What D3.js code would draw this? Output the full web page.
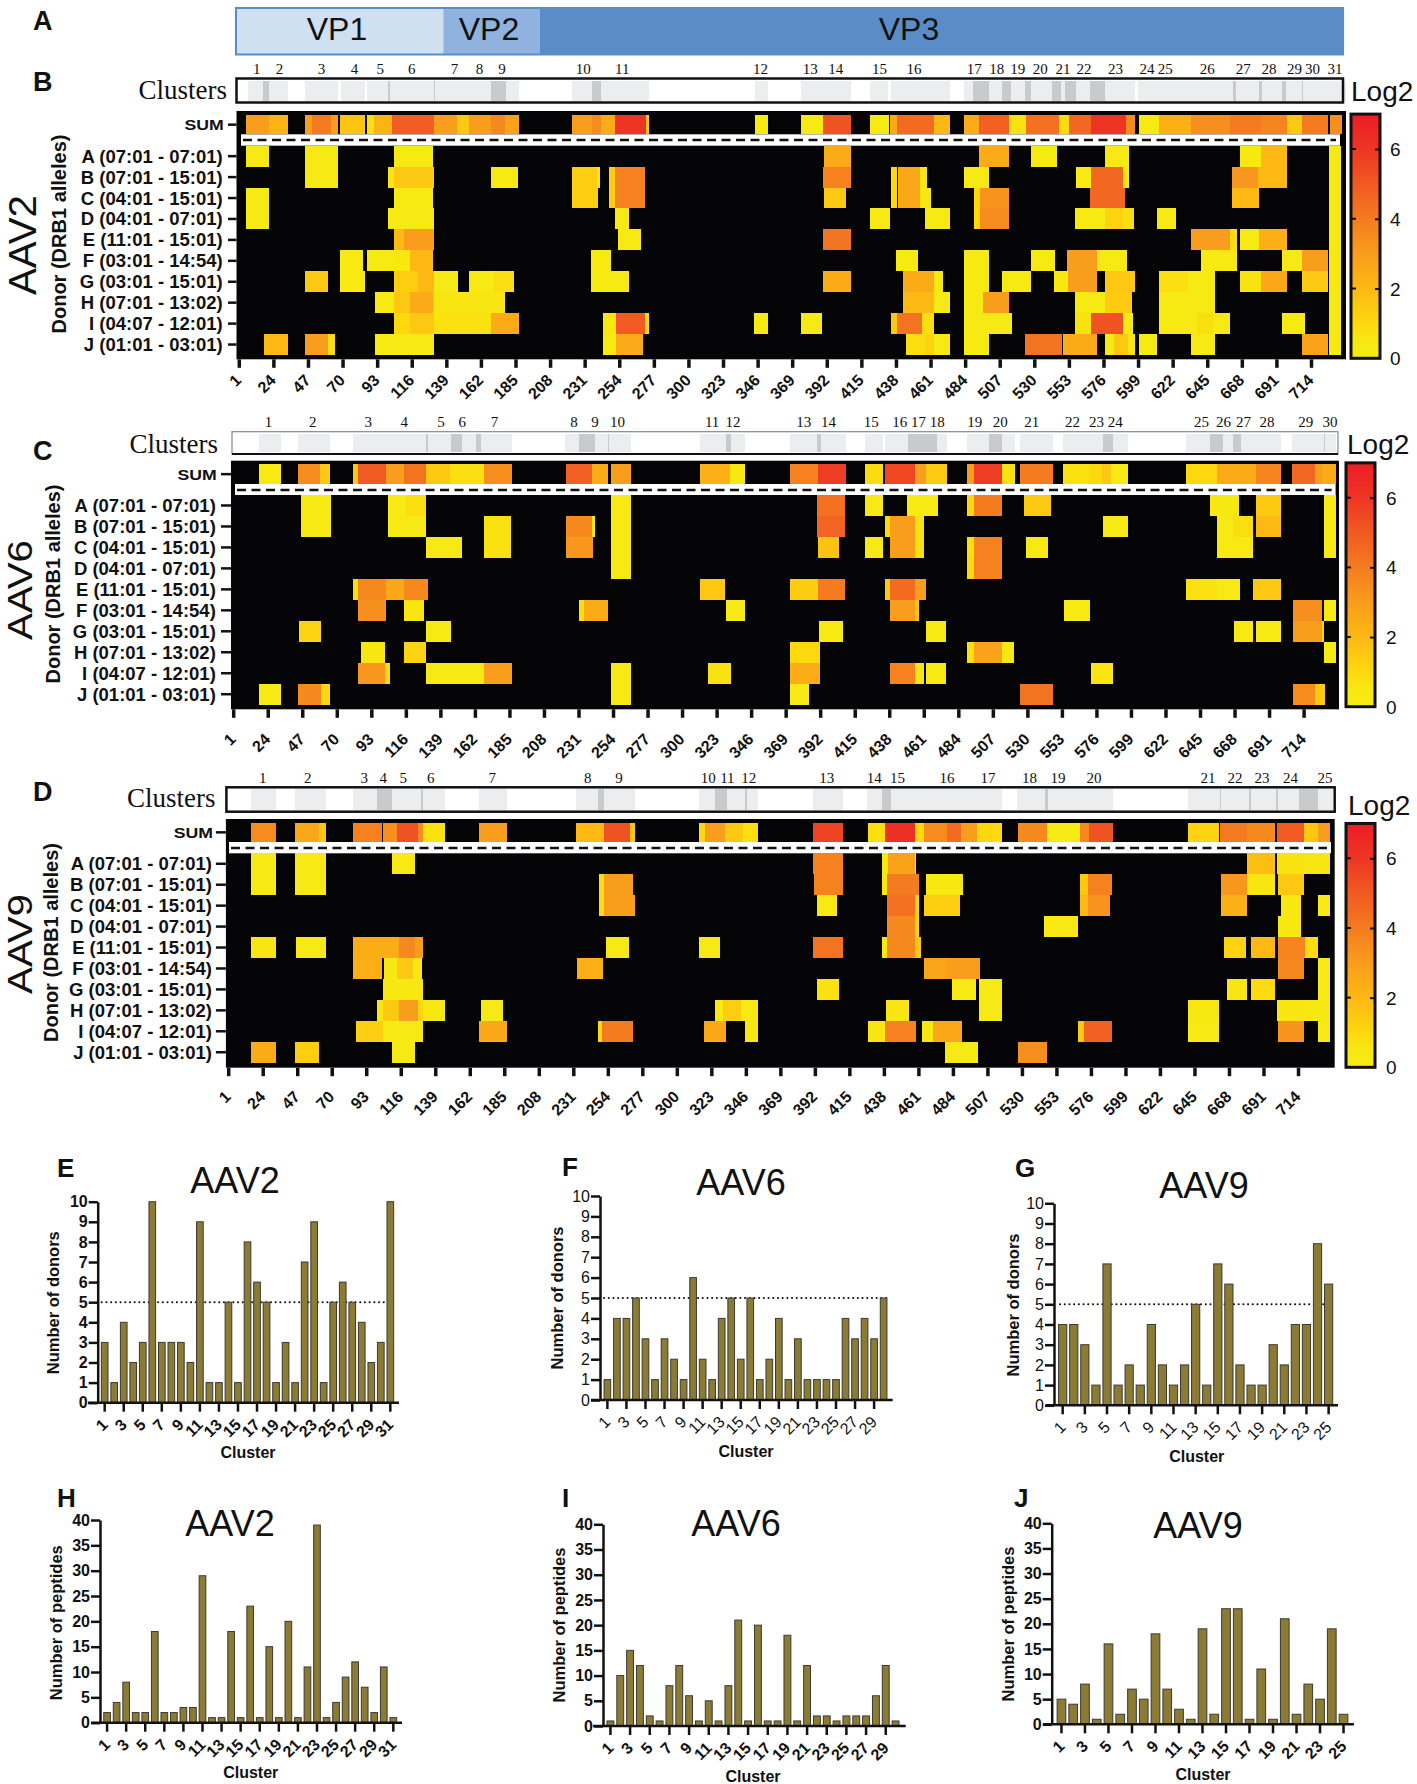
<!DOCTYPE html>
<html>
<head>
<meta charset="utf-8">
<script src="https://cdnjs.cloudflare.com/ajax/libs/d3/7.8.5/d3.min.js"></script>
<style>
  body { margin: 0; background: #fff; }
  svg { display: block; }
  text { font-family: "Liberation Sans", Arial, sans-serif; fill: #111; }
  .serif { font-family: "Liberation Serif", "Times New Roman", serif; }
</style>
</head>
<body>
<svg id="chart" width="1417" height="1784"></svg>
<script>
// ---- data ----
const donors = ["A (07:01 - 07:01)", "B (07:01 - 15:01)", "C (04:01 - 15:01)", "D (04:01 - 07:01)", "E (11:01 - 15:01)",
  "F (03:01 - 14:54)", "G (03:01 - 15:01)", "H (07:01 - 13:02)", "I (04:07 - 12:01)", "J (01:01 - 03:01)"];
const residueTicks = [1,24,47,70,93,116,139,162,185,208,231,254,277,300,323,346,369,392,415,438,461,484,507,530,553,576,599,622,645,668,691,714];
const capsidRegions = [["VP1", 1, 137], ["VP2", 137, 201], ["VP3", 201, 736]];
const colorTicks = [0, 2, 4, 6];
const colorDomain = [0, 0.5, 1, 2, 3, 4, 5, 6, 7];
const colorRange = ["#f6eb14", "#f8e812", "#fdd80f", "#fdb813", "#f99d1c", "#f47b20", "#f15a22", "#ee3524", "#ed1c24"];

// each segment is [first residue, last residue, log2 value]
const aav2Sum = [[6,21,3],[21,34,2.2],[45,50,3],[50,62,4],[62,67,3],[68,85,1.6],[86.5,91,.8],[91,103,2.2],[103,131,4.9],[131,146,3],[146,154,1.5],[154,169,3],[169,178,3.6],[178,187,2.8],
  [222.5,236,3],[236,242,3.5],[242,251.5,2.5],[251.5,271.5,6],[271.5,273.5,1.5],[344,352.6,.3],[375,389.4,.3],[389.4,408.3,5.2],[421,433.5,.3],[434,439,2.5],[439,463,4.5],[463,473.7,2],
  [483,493.5,2.5],[493.5,513.2,4.8],[513.2,524.5,.7],[524.5,546.7,4.3],[546.7,552.8,.9],[552.8,568,4.6],[568,590.8,6],[590.8,597,3.5],[599.3,613,.3],[613,634,2.3],[634,660.2,3.4],[660.2,680.6,4],[680.6,698,3.7],[698,708,1.5],[708,725.3,4],[726.8,734.7,3.4]];
const aav2Rows = [
  [[6,21,.3],[45,67,.3],[104,130,.2],[390,408,2.5],[493,513,2.5],[528,545,.2],[577,593,.2],[667,681,.5],[681,698,2],[726,734,.2]],
  [[45,67,.3],[100,104,.6],[104,131,1.5],[168.4,186.8,.2],[222.5,239.3,1.3],[239.3,241.5,.6],[247.5,251.5,1.3],[251.5,271.4,3.8],[389.4,408,3.8],[435,439,1],[439.3,454,2.6],[454,458.5,.6],[483,500,.3],[557.4,568,.4],[568,589,4.6],[589,593,.5],[661.7,679,3.2],[679,698,2],[726,734,.2]],
  [[6,21,.3],[104,130,.2],[222.5,240,1.3],[247.5,251.5,1.3],[251.5,271.4,3.8],[390,404.6,1.5],[435,439,1],[439.3,454,2.6],[454,461.5,.5],[490,494,1],[494,513,3.3],[567,590,4.6],[661.7,679.7,2],[726,734,.2]],
  [[6,21,.3],[100,131,.3],[251.5,260.7,.3],[421,434,.2],[457.5,473.7,.2],[490,494,1],[494,513,3.5],[557,577,.2],[577,589,1.2],[589,596,.8],[611.5,624,.2],[726,734,.2]],
  [[104,111,2],[111,131,3],[253,268.3,.3],[389.4,408.3,4.2],[634,660,3],[660,664.5,.8],[667,679.7,.2],[679.7,698,2.3],[726,734,.2]],
  [[68,83.5,.2],[86.5,104,.3],[104,115,.5],[115,130,2],[235.4,248.5,.4],[438,452.4,.2],[483,500,.2],[527.5,543.7,.2],[552,571.4,3],[571.4,591.7,.3],[641,664.5,.2],[695,708,.3],[708,725.3,3],[726,734,.2]],
  [[45.3,60.6,1.5],[68,85,.4],[104,120,1.3],[120,131,2],[131,146.7,.3],[154.4,170.5,.3],[170.5,184.3,.8],[235.4,252,.2],[252,260.7,.3],[389.4,408.3,2.5],[442.4,463,2.5],[463,469,.5],[483,500,.2],[508.7,527.5,.2],[542.8,552.2,.5],[552.2,571.4,3],[577,597,1.5],[613,632,.8],[632,650,.2],[667,681,.7],[681,698,2.6],[708,725,1.5],[726,734,.2]],
  [[91.7,104,.2],[104,115,1.5],[115,130,2.5],[130,131,1.3],[131,178,.6],[442.4,463,2],[463,473.7,.3],[483,496,.2],[496,513.2,3],[557,577,.2],[577,595,1.4],[613,650,.2],[726,734,.2]],
  [[104,115,1],[115,131,1.5],[131,169,.7],[169,187,2.5],[243,252,.5],[252,271.4,5],[271.4,273.5,.8],[343.8,352.6,.3],[374.8,388.5,.3],[435,438.7,1.5],[438.7,455.5,4.2],[455.5,463,.8],[483,515.4,.3],[557,568,.7],[568,589,5.2],[589,595.5,.3],[613,638,.2],[638,648.6,.8],[648.6,659.9,.2],[695,710,.2],[726,734,.2]],
  [[17.8,34,2],[45.3,60.6,3],[60.6,65.2,.8],[91.7,105,.2],[105,131,.3],[243,252,.2],[252,270,2.5],[444.8,457,.8],[457,463,1.2],[463,473.7,.4],[483,500,.2],[523.9,548.2,4.2],[549,571.7,2.5],[577,583,.4],[583,592.5,1.5],[592.5,597,.6],[599.3,611.5,.2],[634,650,.3],[708,725.3,2.8],[726,734,.2]]
];
const aav2ClusterLabels = [13,28,56,78,95,116,144.5,161,176,230,256,348,381,398,427,450,490,505,519,534,549,563,584,605,617,645,669,686,703,715,730];
const aav2ClusterSpans = [[7,34],[45,67],[69,85],[86.5,187],[222.5,273.5],[344,352.6],[375,408],[420.5,433],[435,473.7],[483,597],[599,737]];
const aav2ClusterOverlaps = [[17,21.3],[100.5,101.5],[130.5,131.5],[169,179],[236,242],[489.5,500],[508.7,514.8],[524,527.5],[542,548],[550.4,557.4],[567,577],[662,664],[679.6,681.5],[695,697.3],[708,709]];

const aav6Sum = [[18.4,32.8,.4],[44.4,59.1,3.5],[59.1,65.8,1.5],[81.1,84.2,1.5],[84.2,102.5,5],[102.5,114.8,3],[114.8,129.4,4.2],[129.4,145.3,1.5],[145.3,168.3,.8],[168.3,187,3.4],
  [222.4,240.1,4.8],[240.1,250.8,2.5],[252.4,266.1,3],[312,331.7,2.3],[331.7,341.7,.5],[372.2,390.5,3.8],[390.5,409.4,5.8],[421.6,433.7,.9],[435.3,455,5.5],[455,462.7,3],[462.7,476.4,1.4],
  [490.1,494.7,3],[494.7,513,5.8],[513,521.5,.7],[525.1,547,4],[554,570.8,.7],[570.8,580,1],[580,586,1.5],[586,597.3,.4],[635.4,656,1],[656,682,2.5],[682,698.7,3.7],[706.4,721.6,4.6],[721.6,726.2,3],[726.2,735.3,2.5]];
const aav6Rows = [
  [[46.3,66.4,.3],[104,116.3,.3],[116.3,129.1,.8],[252.4,266.1,.3],[389.6,408.8,4.3],[421.6,433.7,.3],[449.9,470.3,.2],[490,494.7,1],[494.7,513,4],[527.6,545.5,1.5],[651.5,671.3,.5],[682,698.7,1.5],[727.7,735.3,.3]],
  [[46.3,66.4,.3],[104,129.1,.3],[168.3,186,.7],[222.4,240.1,3.6],[240.1,242.3,.5],[252.4,266.1,.3],[389.6,408.8,4.7],[435.3,438.3,1],[438.3,455,3],[455,461.2,.7],[580.6,597.3,.3],[656,666.7,.3],[666.7,680.5,.8],[682,698.7,2],[727.7,735.3,.3]],
  [[129.1,153.6,.3],[168.3,186,.7],[222.4,240.8,3.2],[252.4,266.1,.3],[390.5,404.8,1.7],[421.6,433.7,.3],[438.3,455,3],[455,461.2,.7],[490,494.7,.8],[494.7,513,3.8],[528.8,544,.3],[656,680,.4],[727.7,735.3,.3]],
  [[252.4,266.1,.3],[490,494.7,1],[494.7,513,3.8]],
  [[81.1,84.2,.8],[84.2,102.5,3.6],[102.5,114.8,2.6],[114.8,131,3.6],[312,328.7,1.5],[372.2,390.5,1.4],[390.5,408.8,4],[435.3,438.3,1.5],[438.3,455,4.5],[455,462.7,3],[635.4,656,.7],[656,671.9,.3],[680.5,698.7,1.5]],
  [[84.2,103.1,3.4],[114.8,127.9,.6],[231.6,234.6,.8],[234.6,250.8,2.5],[329.3,341.7,.3],[438.3,455,3],[455,458,1.5],[554.7,571.7,.4],[707,726.2,3.4],[727.7,735.3,.3]],
  [[45,59.7,1.2],[129.1,146,.2],[391,407,.2],[462.7,475.8,.2],[667.7,680.5,.2],[682,698.7,.2],[707,726.2,3],[726.2,727.7,1]],
  [[86.3,101.9,.6],[114.8,129.1,1.2],[372.2,391.7,1],[490,494.7,.8],[494.7,513,2.8],[513,521.2,.5],[727.7,735.3,.3]],
  [[84.2,101.9,3.2],[101.9,105.3,.8],[129.1,168.3,.2],[168.3,187,3],[252.4,266.1,.3],[317.4,332.6,.7],[372.2,391.7,2.4],[438.3,455,3.8],[455,461.2,.5],[462.7,475.8,.2],[572.3,587,.6]],
  [[18.4,32.8,.3],[44.4,59.7,3.6],[59.7,65.2,1],[252.4,266.1,.3],[372.2,384.4,.3],[525.1,547,4.2],[707,721.6,3.5],[721.6,728.3,1.5]]
];
const aav6ClusterLabels = [24.5,54,91,115,139.5,153.6,175,228,242,257,320,334,381,397.5,426,445,457.5,470,495,512,533,560,576,588.5,646,660.6,674,689.6,715.5,731.6];
const aav6ClusterSpans = [[18.4,32.8],[44.4,65.8],[81,187],[222,266],[312,342],[372,409],[421.6,433.7],[435,476.4],[490,521.5],[525,547],[554,597],[635.4,699],[706,735.3]];
const aav6ClusterOverlaps = [[129.5,130.5],[146,153.6],[162.8,166],[231.6,242],[250.5,251.5],[329.3,332.6],[389.6,392.6],[450.5,469.7],[504.4,513],[580.6,587],[651.5,660.6],[666.8,672.2],[727.5,728.5]];

const aav9Sum = [[16.3,33.1,3.5],[45.4,61.6,2.6],[61.6,66.2,1.5],[84.5,103.5,3.8],[104.4,113.6,3.4],[113.6,127.4,5.2],[127.4,131,3.5],[131,145.7,.7],[168.1,187,3],[232.9,251.3,2],[251.3,268.7,5.2],[268.7,271.8,1.5],
  [314.6,318.6,1],[318.6,332.2,3],[332.2,344.4,1.5],[344.4,354.4,.8],[390.7,410.5,5.6],[427.3,438.8,.8],[438.8,458.7,6.2],[458.7,464.7,1],[464.7,480,3.5],[480,489.1,4.5],[489.1,499.8,3],[499.8,516.6,1],
  [527.2,546.4,3.6],[546.4,569,.3],[569,574.5,3.6],[574.5,590.6,5.2],[640.9,661.3,1.2],[662.2,680.2,4],[680.2,698.5,3.6],[700,717.7,5],[717.7,727.5,1.5],[727.5,735.4,3]];
const aav9Rows = [
  [[16.3,33.1,.3],[45.4,66.2,.3],[110.5,125.2,.3],[390.7,410.5,3.8],[436.7,441,.5],[441,458.7,2.8],[458.7,459.5,.5],[680.2,698.5,1.8],[700,717.7,.7],[717.7,735.4,.6]],
  [[16.3,33.1,.3],[45.4,66.2,.3],[248.2,251.3,.8],[251.3,270.6,3],[391.5,410.5,3.8],[436.7,439.8,.5],[439.8,461.1,4],[466.3,490.7,.5],[568.4,573.9,1.5],[573.9,590.3,3.8],[662.8,680.2,3.2],[680.2,698.5,.6],[701,718.3,1.5]],
  [[248.2,251.3,.8],[251.3,271.8,3],[393.7,406.8,.2],[439.8,458.7,4.3],[458.7,461.1,1],[464.7,488.5,1.3],[568.4,573.9,2],[573.9,589,3.3],[662.8,680.2,2.3],[702.5,716.2,.5],[727.5,735.4,.3]],
  [[439.8,458.7,3.6],[458.7,461.1,1],[544.6,567.5,.4],[701,716.2,.5]],
  [[16.3,33.1,.6],[46.3,66.2,.3],[84.5,104.4,2.4],[104.4,115,2.4],[115,125.8,3.6],[125.8,131,3],[252.8,268.1,.3],[314.6,329.1,.3],[390.7,410.5,4.2],[436.7,439.8,.5],[439.8,459,3.6],[459,462.9,1.5],[664.4,679.6,1.2],[682.7,698.5,2],[701,718.4,3.7],[718.4,727.5,.8]],
  [[84.5,103.5,2.3],[105,113.6,.5],[113.6,124.3,1.5],[124.3,130.4,.4],[233.6,250.7,2.3],[464.7,480,2.7],[480,502,3],[701,718.3,3.6],[727.5,735.4,.3]],
  [[104.4,131,.5],[393.7,408.4,.7],[483.6,499.5,.3],[501.3,516.6,.3],[666.5,680.2,.6],[682.7,698.5,.9],[727.5,735.4,.3]],
  [[100.4,104.4,.6],[104.4,115,1.5],[115,127.4,3],[127.4,131,1],[131,145.7,.5],[169.6,184.3,.3],[325.5,330.6,.4],[330.6,342.8,1.3],[342.8,354.4,.4],[439.4,455,.6],[501.3,516.6,.3],[640.9,661.3,.5],[700.3,717.7,.6],[717.7,735.4,.5]],
  [[86,103.9,1.3],[104.4,131,.3],[168.1,187,2.6],[247.3,250.4,1],[250.4,270.6,4],[317.8,332.8,2.6],[345.3,354.4,.4],[427.3,438.8,.6],[438.8,459.3,3.8],[463.2,470.8,.5],[470.8,490,2.6],[567.2,571.4,1.5],[571.4,590.3,4.8],[640.9,661.3,.3],[701,718.3,3.3],[727.5,735.4,.3]],
  [[16.3,33.1,2.5],[45.4,61.6,1.3],[110.5,125.2,.3],[478.5,500.4,.3],[527.2,547,3.4]]
];
const aav9ClusterLabels = [24,54,91.6,104.4,117.6,136,177,240.6,261.4,321,333.7,348,400,431.5,447,480,507.4,535,554,578,654,672,690,709,732];
const aav9ClusterSpans = [[16.3,33],[45.4,66.2],[84.5,145.7],[168,187],[233,271.8],[314.6,354.4],[390.7,410.5],[427,516.6],[527,590.6],[640.9,737]];
const aav9ClusterOverlaps = [[100.4,110],[129.8,131],[247.6,251.3],[325.5,333.7],[345.5,346.5],[436.7,442.5],[545.5,547.6],[662,663],[681.5,682.5],[699.5,700.5],[714.7,727.5]];

const donorsAav2 = [3,1,4,2,3,10,3,3,3,2,9,1,1,5,1,8,6,5,1,3,1,7,9,1,5,6,5,4,2,3,10];
const donorsAav6 = [1,4,4,5,3,1,3,2,1,6,2,1,4,5,2,5,1,2,4,1,3,1,1,1,1,4,3,4,3,5];
const donorsAav9 = [4,4,3,1,7,1,2,1,4,2,1,2,5,1,7,6,2,1,1,3,2,4,4,8,6];
const peptidesAav2 = [2,4,8,2,2,18,2,2,3,3,29,1,1,18,1,23,1,15,1,20,1,11,39,1,4,9,12,7,2,11,1];
const peptidesAav6 = [1,10,15,12,2,1,8,12,6,1,5,1,8,21,1,20,1,1,18,1,12,2,2,1,2,2,2,6,12,1];
const peptidesAav9 = [5,4,8,1,16,2,7,5,18,7,3,1,19,2,23,23,1,11,1,21,2,8,5,19,2];
const donorTicks = [0,1,2,3,4,5,6,7,8,9,10];
const peptideTicks = [0,5,10,15,20,25,30,35,40];
const donorThreshold = 5;

// ---- drawing ----
const svg = d3.select("#chart");
const heatColor = d3.scaleLinear().domain(colorDomain).range(colorRange);

function label(g, str, x, y, size, opts) {
  opts = opts || {};
  return g.append("text")
    .attr("transform", `translate(${x},${y}) ${opts.rotate ? `rotate(${opts.rotate})` : ""} scale(${opts.sx || 1},1)`)
    .attr("text-anchor", opts.anchor || "middle")
    .attr("font-size", size)
    .attr("font-weight", opts.weight || "normal")
    .attr("class", opts.cls || null)
    .text(str);
}

// panel letters
[["A",33,29.5,27],["B",33,90.5,27],["C",33,459.5,27],["D",33,800.5,27],["E",57,1177,26],["F",562,1176,26],["G",1015,1177,26],["H",57,1507,26],["I",562,1507,26],["J",1014,1507,26]]
  .forEach(p => label(svg, p[0], p[1], p[2], p[3], {anchor:"start", weight:"bold"}));

// panel A, capsid bar
const capsidX = d3.scaleLinear().domain([1, 714]).range([238.8, 1311]);
const capsidFill = {VP1:"#cfe0f3", VP2:"#8fb2de", VP3:"#5a8dc8"};
svg.append("g").selectAll("rect").data(capsidRegions).enter().append("rect")
  .attr("x", d => capsidX(d[1]) - (d[0] == "VP1" ? 2 : 0))
  .attr("width", d => capsidX(d[2]) - capsidX(d[1]) + (d[0] == "VP1" ? 2 : 0))
  .attr("y", 8).attr("height", 46.5)
  .attr("fill", d => capsidFill[d[0]]);
svg.append("rect").attr("x", 236).attr("y", 8).attr("width", 1107).attr("height", 46.5)
  .attr("fill", "none").attr("stroke", "#5a8dc8").attr("stroke-width", 2);
capsidRegions.forEach(d => {
  const cx = {VP1:337, VP2:489, VP3:909}[d[0]];
  label(svg, d[0], cx, 40, 32);
});

function drawHeatmap(c) {
  const g = svg.append("g");
  const x = d3.scaleLinear().domain([1, 714]).range(c.xr);
  const y = d3.scaleBand().domain(donors).range(c.rowsY);

  // serotype name and axis title
  label(g, c.name, c.nameX, c.nameY, c.nameSize, {rotate:-90, sx:c.nameSx});
  label(g, "Donor (DRB1 alleles)", c.donorX, c.donorY, 20, {rotate:-90, weight:"bold"});

  // clusters strip
  label(g, "Clusters", c.clustersX, c.clustersY, 27, {anchor:"end", cls:"serif"});
  const strip = g.append("g").attr("shape-rendering", "crispEdges");
  strip.selectAll(".light").data(c.spans).enter().append("rect")
    .attr("x", d => x(d[0])).attr("width", d => x(d[1]) - x(d[0]))
    .attr("y", c.box[1] + 2).attr("height", c.box[3] - 4).attr("fill", "#ecedef");
  strip.selectAll(".dark").data(c.overlaps).enter().append("rect")
    .attr("x", d => x(d[0])).attr("width", d => x(d[1]) - x(d[0]))
    .attr("y", c.box[1] + 2).attr("height", c.box[3] - 4).attr("fill", "#c9cacb");
  g.append("rect").attr("x", c.box[0]).attr("y", c.box[1]).attr("width", c.box[2]).attr("height", c.box[3])
    .attr("fill", "none").attr("stroke", c.boxStroke).attr("stroke-width", c.boxWidth);
  if (c.boxStroke != "#111") {
    g.append("line").attr("x1", c.box[0]).attr("x2", c.box[0] + c.box[2])
      .attr("y1", c.box[1] + c.box[3]).attr("y2", c.box[1] + c.box[3]).attr("stroke", "#111").attr("stroke-width", 2);
  }
  c.labels.forEach((aa, i) => {
    label(g, i + 1, x(aa), c.labelY, 15, {cls:"serif"});
  });

  // black field
  g.append("rect").attr("x", c.field[0]).attr("y", c.field[1]).attr("width", c.field[2]).attr("height", c.field[3]).attr("fill", "#050508");

  // SUM row
  g.append("g").attr("shape-rendering", "crispEdges").selectAll("rect").data(c.sum).enter().append("rect")
    .attr("x", d => x(d[0])).attr("width", d => x(d[1]) - x(d[0]))
    .attr("y", c.sumY[0]).attr("height", c.sumY[1] - c.sumY[0])
    .attr("fill", d => heatColor(d[2]));

  // white band with the dashed line
  g.append("rect").attr("x", c.band[0]).attr("width", c.band[1] - c.band[0])
    .attr("y", c.sumY[1]).attr("height", c.rowsY[0] - c.sumY[1]).attr("fill", "#fff");
  g.append("line").attr("x1", c.band[0] + 2).attr("x2", c.band[1] - 4)
    .attr("y1", c.dashY).attr("y2", c.dashY).attr("stroke", "#111").attr("stroke-width", 2.5)
    .attr("stroke-dasharray", "9,5.5");

  // donor rows
  c.rows.forEach((segs, i) => {
    g.append("g").attr("shape-rendering", "crispEdges").selectAll("rect").data(segs).enter().append("rect")
      .attr("x", d => x(d[0])).attr("width", d => x(d[1]) - x(d[0]))
      .attr("y", y(donors[i])).attr("height", y.bandwidth())
      .attr("fill", d => heatColor(d[2]));
  });

  // left ticks and labels
  const ya = g.append("g").attr("transform", `translate(${c.field[0]},0)`)
    .call(d3.axisLeft(y).tickSize(c.rowTick).tickSizeOuter(0));
  ya.select(".domain").remove();
  ya.selectAll(".tick line").attr("stroke", "#111").attr("stroke-width", 2.5);
  ya.selectAll(".tick text").remove();
  donors.forEach(d => {
    label(g, d, c.labelX, y(d) + y.bandwidth() / 2 + 6.5, 18.5, {anchor:"end", weight:"bold"});
  });
  const sumMid = (c.sumY[0] + c.sumY[1]) / 2;
  g.append("line").attr("x1", c.field[0] - c.rowTick).attr("x2", c.field[0]).attr("y1", sumMid).attr("y2", sumMid)
    .attr("stroke", "#111").attr("stroke-width", 2.5);
  label(g, "SUM", c.labelX + 1, sumMid + 5.5, 15.5, {anchor:"end", weight:"bold", sx:1.14});

  // residue axis
  const bottom = c.field[1] + c.field[3];
  const xa = g.append("g").attr("transform", `translate(0,${bottom})`)
    .call(d3.axisBottom(x).tickValues(residueTicks).tickFormat(d3.format("d")).tickSize(8.5).tickSizeOuter(0));
  xa.select(".domain").remove();
  xa.selectAll(".tick line").attr("stroke", "#111").attr("stroke-width", 3.5);
  xa.selectAll(".tick text")
    .attr("y", 0).attr("dy", 0)
    .attr("transform", `translate(3,${c.tickDrop}) rotate(-45)`)
    .attr("text-anchor", "end")
    .attr("font-size", 16).attr("font-weight", "bold")
    .attr("font-family", "Liberation Sans").attr("fill", "#111");

  // colour bar
  const cb = c.bar;
  const cy = d3.scaleLinear().domain([0, 6]).range(cb.y06);
  const gradId = "grad" + c.name;
  const grad = svg.append("defs").append("linearGradient").attr("id", gradId).attr("x1", 0).attr("x2", 0).attr("y1", 1).attr("y2", 0);
  colorDomain.forEach((v, i) => grad.append("stop").attr("offset", v / 7).attr("stop-color", colorRange[i]));
  g.append("rect").attr("x", cb.x).attr("y", cy(7)).attr("width", cb.w).attr("height", cy(0) - cy(7))
    .attr("fill", `url(#${gradId})`).attr("stroke", "#111").attr("stroke-width", 3);
  const ca = g.append("g").attr("transform", `translate(${cb.x + cb.w},0)`)
    .call(d3.axisRight(cy).tickValues(colorTicks.slice(1)).tickSize(-5).tickFormat(d3.format("d")));
  ca.select(".domain").remove();
  ca.selectAll(".tick line").attr("stroke", "#111").attr("stroke-width", 2);
  ca.selectAll(".tick text").remove();
  colorTicks.forEach(t => {
    if (t > 0) g.append("line").attr("x1", cb.x).attr("x2", cb.x + 5).attr("y1", cy(t)).attr("y2", cy(t)).attr("stroke", "#111").attr("stroke-width", 2);
    label(g, t, cb.labelX, cy(t) + 7, 19, {anchor:"start"});
  });
  label(g, "Log2", c.logX, c.logY, 28, {anchor:"start"});
}

drawHeatmap({
  name:"AAV2", nameX:36, nameY:245, nameSize:38, nameSx:1.06, donorX:66, donorY:234, clustersX:227, clustersY:99.3,
  xr:[238.8,1311], field:[236.5,111,1109.5,248.3], sumY:[115,134.3], rowsY:[145.7,355], band:[241,1340], dashY:140,
  box:[236.5,78.5,1106.5,24], boxStroke:"#111", boxWidth:2.5, labelY:74, labelX:222.7, rowTick:8.5, tickDrop:22,
  sum:aav2Sum, rows:aav2Rows, labels:aav2ClusterLabels, spans:aav2ClusterSpans, overlaps:aav2ClusterOverlaps,
  bar:{x:1351,w:29,y06:[358.3,149],labelX:1390}, logX:1351, logY:101
});
drawHeatmap({
  name:"AAV6", nameX:32, nameY:590, nameSize:35, nameSx:1.15, donorX:60, donorY:584, clustersX:218, clustersY:453.3,
  xr:[233.2,1303.6], field:[231,460.7,1108,248.6], sumY:[464.3,484], rowsY:[495,704.7], band:[235,1335.6], dashY:490,
  box:[232,431.7,1106,22.3], boxStroke:"#888", boxWidth:1.2, labelY:426.7, labelX:215.8, rowTick:10, tickDrop:31,
  sum:aav6Sum, rows:aav6Rows, labels:aav6ClusterLabels, spans:aav6ClusterSpans, overlaps:aav6ClusterOverlaps,
  bar:{x:1346,w:29,y06:[706.7,497.7],labelX:1386}, logX:1347, logY:454
});
drawHeatmap({
  name:"AAV9", nameX:32, nameY:944, nameSize:35, nameSx:1.15, donorX:58, donorY:942.5, clustersX:215.5, clustersY:806.7,
  xr:[228.2,1298], field:[225.9,819,1108.8,248.7], sumY:[822.7,842], rowsY:[853.3,1062.7], band:[229,1331], dashY:848,
  box:[226.4,787.3,1108.3,24.4], boxStroke:"#111", boxWidth:2.5, labelY:782.7, labelX:212, rowTick:10, tickDrop:30,
  sum:aav9Sum, rows:aav9Rows, labels:aav9ClusterLabels, spans:aav9ClusterSpans, overlaps:aav9ClusterOverlaps,
  bar:{x:1346,w:29,y06:[1067.3,858.3],labelX:1386}, logX:1348, logY:815
});

function drawBars(c) {
  const g = svg.append("g");
  const names = c.values.map((v, i) => i + 1);
  const step = (c.last - c.first) / (names.length - 1);
  const x = d3.scaleBand().domain(names).range([c.first - step / 2, c.last + step / 2]).padding(c.pad || 0.3);
  const y = d3.scaleLinear().domain([0, c.max]).range([c.y0, c.yTop]);

  if (c.threshold !== undefined) {
    g.append("line").attr("x1", c.dot[0]).attr("x2", c.dot[1])
      .attr("y1", y(c.threshold)).attr("y2", y(c.threshold))
      .attr("stroke", "#111").attr("stroke-width", 2).attr("stroke-linecap", "round").attr("stroke-dasharray", "0.1,4.6");
  }

  g.selectAll("rect").data(c.values).enter().append("rect")
    .attr("x", (d, i) => x(i + 1)).attr("width", x.bandwidth())
    .attr("y", d => y(d)).attr("height", d => y(0) - y(d))
    .attr("fill", "#8c7b34").attr("stroke", "#3a3a33").attr("stroke-width", 1);

  const ya = g.append("g").attr("transform", `translate(${c.axisX},0)`)
    .call(d3.axisLeft(y).tickValues(c.ticks).tickSize(9).tickSizeOuter(0).tickFormat(d3.format("d")));
  ya.select(".domain").attr("stroke", "#111").attr("stroke-width", 2.5);
  ya.selectAll(".tick line").attr("stroke", "#111").attr("stroke-width", 2.5);
  ya.selectAll(".tick text").attr("font-size", 16).attr("font-weight", c.weight)
    .attr("font-family", "Liberation Sans").attr("fill", "#111").attr("x", -10);

  const xa = g.append("g").attr("transform", `translate(0,${c.y0})`)
    .call(d3.axisBottom(x).tickValues(names.filter(n => n % 2 == 1)).tickSize(9).tickSizeOuter(0));
  xa.select(".domain").attr("d", `M${c.axisEnds[0]},0H${c.axisEnds[1]}`).attr("stroke", "#111").attr("stroke-width", 2.5);
  xa.selectAll(".tick line").attr("stroke", "#111").attr("stroke-width", 2.5);
  xa.selectAll(".tick text").attr("y", 0).attr("dy", 0)
    .attr("transform", "translate(4,23) rotate(-45)")
    .attr("text-anchor", "end").attr("font-size", 16).attr("font-weight", c.weight)
    .attr("font-family", "Liberation Sans").attr("fill", "#111");

  g.append("text").attr("x", c.titleX).attr("y", c.titleY).attr("text-anchor", "middle").attr("font-size", 36).text(c.title);
  label(g, c.yTitle, c.yTitleX, c.yTitleY, 16.5, {rotate:-90, weight:"bold"});
  label(g, "Cluster", c.xTitleX, c.xTitleY, 16, {weight:"bold"});
}

drawBars({values:donorsAav2, title:"AAV2", titleX:235, titleY:1193, first:103.3, last:391.7, axisX:97.7, y0:1402.7, yTop:1201.7, max:10, ticks:donorTicks, axisEnds:[88,399],
  threshold:donorThreshold, dot:[101.7,388], yTitle:"Number of donors", yTitleX:59, yTitleY:1302.7, xTitleX:248, xTitleY:1458, weight:"bold"});
drawBars({values:donorsAav6, title:"AAV6", titleX:741, titleY:1195, first:606, last:885, axisX:600, y0:1400, yTop:1196, max:10, ticks:donorTicks, axisEnds:[591,892.7],
  threshold:donorThreshold, dot:[604,888], yTitle:"Number of donors", yTitleX:563, yTitleY:1298, xTitleX:746, xTitleY:1457, weight:"normal"});
drawBars({values:donorsAav9, title:"AAV9", titleX:1204, titleY:1198, first:1061.3, last:1330, axisX:1054, y0:1405.3, yTop:1203.3, max:10, ticks:donorTicks, axisEnds:[1045.7,1338], pad:0.26,
  threshold:donorThreshold, dot:[1060,1326.7], yTitle:"Number of donors", yTitleX:1019, yTitleY:1305, xTitleX:1196.7, xTitleY:1461.7, weight:"normal"});
drawBars({values:peptidesAav2, title:"AAV2", titleX:230, titleY:1536, first:105.7, last:394.7, axisX:100, y0:1722.7, yTop:1520, max:40, ticks:peptideTicks, axisEnds:[91,402],
  yTitle:"Number of peptides", yTitleX:62, yTitleY:1622.7, xTitleX:250.7, xTitleY:1778, weight:"bold"});
drawBars({values:peptidesAav6, title:"AAV6", titleX:736, titleY:1536, first:609, last:897, axisX:603, y0:1726, yTop:1524.3, max:40, ticks:peptideTicks, axisEnds:[593,905.7],
  yTitle:"Number of peptides", yTitleX:565, yTitleY:1625, xTitleX:753, xTitleY:1781.7, weight:"bold"});
drawBars({values:peptidesAav9, title:"AAV9", titleX:1198, titleY:1538, first:1060, last:1345, axisX:1051.7, y0:1724.3, yTop:1523.3, max:40, ticks:peptideTicks, axisEnds:[1043,1354], pad:0.26,
  yTitle:"Number of peptides", yTitleX:1014, yTitleY:1624, xTitleX:1203, xTitleY:1780, weight:"bold"});
</script>
</body>
</html>
